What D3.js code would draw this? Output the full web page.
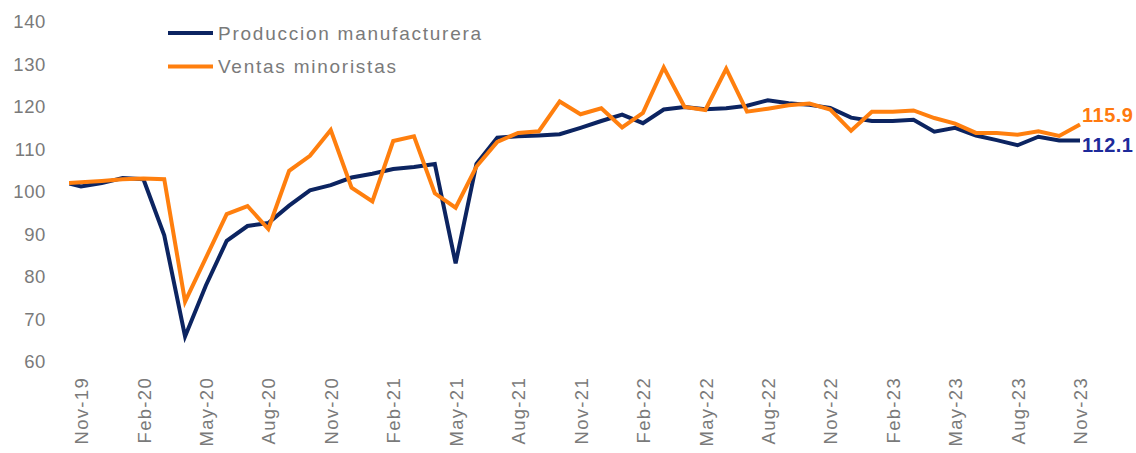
<!DOCTYPE html>
<html>
<head>
<meta charset="utf-8">
<script src="https://cdn.jsdelivr.net/npm/d3@7"></script>
<style>
  html, body { margin: 0; padding: 0; background: #ffffff; }
  svg { display: block; font-family: "Liberation Sans", Arial, sans-serif; }
</style>
</head>
<body>
<svg id="chart" width="1136" height="453"></svg>
<script>
// Months (first one, Oct-19, sits just outside the plot and is clipped)
const months = ["Oct-19","Nov-19","Dec-19","Jan-20","Feb-20","Mar-20","Apr-20","May-20","Jun-20","Jul-20","Aug-20","Sep-20","Oct-20","Nov-20","Dec-20",
  "Jan-21","Feb-21","Mar-21","Apr-21","May-21","Jun-21","Jul-21","Aug-21","Sep-21","Oct-21","Nov-21","Dec-21",
  "Jan-22","Feb-22","Mar-22","Apr-22","May-22","Jun-22","Jul-22","Aug-22","Sep-22","Oct-22","Nov-22","Dec-22",
  "Jan-23","Feb-23","Mar-23","Apr-23","May-23","Jun-23","Jul-23","Aug-23","Sep-23","Oct-23","Nov-23"];

const produccion = [102.5,101.3,102.1,103.3,103.0,89.8,66.0,78.0,88.5,92.0,92.7,96.8,100.4,101.6,103.4,
  104.3,105.4,105.9,106.6,83.2,106.6,112.8,113.1,113.3,113.6,115.1,116.7,
  118.2,116.2,119.4,120.0,119.5,119.7,120.3,121.6,120.9,120.5,119.8,117.5,
  116.7,116.7,117.0,114.2,115.1,113.3,112.2,111.0,113.0,112.1,112.1];

const ventas = [102.0,102.3,102.6,103.0,103.2,103.0,74.2,84.5,94.8,96.7,91.3,105.0,108.5,114.6,101.0,
  97.8,112.0,113.1,99.7,96.3,106.0,111.8,113.9,114.3,121.3,118.3,119.7,
  115.2,118.6,129.3,120.0,119.3,129.0,118.9,119.6,120.4,120.8,119.4,114.4,
  118.9,118.9,119.2,117.4,116.1,113.9,113.9,113.5,114.3,113.2,115.9];

const tickLabels = ["Nov-19","Feb-20","May-20","Aug-20","Nov-20","Feb-21","May-21","Aug-21","Nov-21",
  "Feb-22","May-22","Aug-22","Nov-22","Feb-23","May-23","Aug-23","Nov-23"];
const yTicks = [60,70,80,90,100,110,120,130,140];

const seriesNames = ["Produccion manufacturera","Ventas minoristas"];
const colors = ["#0c2461","#ff7f0e"];
const endLabelColors = ["#1d2a9a","#ff7a0f"];

const svg = d3.select("#chart");

// index 0 = Oct-19 ; Nov-19 = 1 ... Nov-23 = 49
const x = d3.scaleLinear().domain([1, 49]).range([81, 1080]);
const y = d3.scaleLinear().domain([60, 140]).range([362, 22]);
const plotLeft = x(0.42);

const defs = svg.append("defs");
defs.append("clipPath").attr("id","plotclip")
  .append("rect").attr("x", plotLeft).attr("y", 0).attr("width", 1136 - plotLeft).attr("height", 453);

const textColor = "#7a7a7a";

// Y axis
const yAxis = svg.append("g").attr("transform","translate(48,0)")
  .call(d3.axisLeft(y).tickValues(yTicks).tickSize(0).tickPadding(2).tickFormat(d3.format("d")));
yAxis.select(".domain").remove();
yAxis.selectAll("text").attr("fill", textColor).style("font-size","18.5px").style("letter-spacing","0.6px");

// X axis
const tickIdx = tickLabels.map(l => months.indexOf(l));
const xAxis = svg.append("g").attr("transform","translate(0,370)")
  .call(d3.axisBottom(x).tickValues(tickIdx).tickSize(0).tickFormat(i => months[i]));
xAxis.select(".domain").remove();
xAxis.selectAll("text")
  .attr("fill", textColor)
  .style("font-size","18.5px").style("letter-spacing","1.3px")
  .attr("text-anchor","end")
  .attr("transform","rotate(-90)")
  .attr("x", -7).attr("y", 0).attr("dy","0.36em");

// Lines
const allSeries = [produccion, ventas];
const line = d3.line().x((d,i) => x(i)).y(d => y(d));
const plot = svg.append("g").attr("clip-path","url(#plotclip)");
allSeries.forEach((s, k) => {
  plot.append("path").datum(s)
    .attr("d", line)
    .attr("fill","none")
    .attr("stroke", colors[k])
    .attr("stroke-width", 4)
    .attr("stroke-linejoin","miter")
    .attr("stroke-linecap","butt");
});

// End labels
const last = months.length - 1;
const labelDy = [4, -9];
allSeries.forEach((s, k) => {
  svg.append("text")
    .attr("x", x(last) + 2)
    .attr("y", y(s[last]) + labelDy[k])
    .attr("dy","0.35em")
    .attr("fill", endLabelColors[k])
    .style("font-size","20px").style("font-weight","bold").style("letter-spacing","0.5px")
    .text(d3.format(".1f")(s[last]));
});

// Legend
const legend = svg.append("g");
seriesNames.forEach((name, k) => {
  const ly = 33 + k * 33.5;
  legend.append("line").attr("x1",168).attr("x2",213).attr("y1",ly).attr("y2",ly)
    .attr("stroke", colors[k]).attr("stroke-width",4);
  legend.append("text").attr("x",218).attr("y",ly).attr("dy","0.35em")
    .attr("fill", textColor).style("font-size","19px").style("letter-spacing","1.75px")
    .text(name);
});
</script>
</body>
</html>
